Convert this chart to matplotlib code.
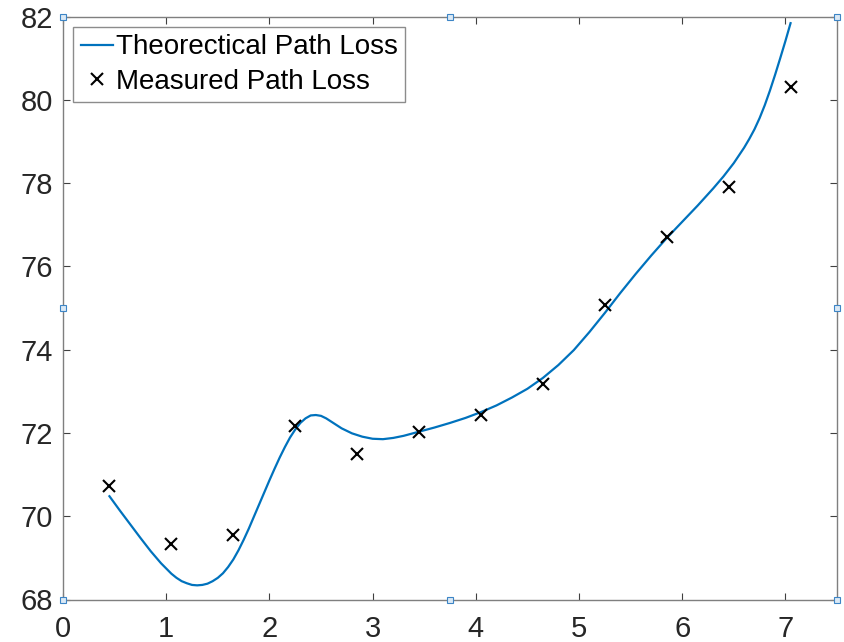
import numpy as np
import matplotlib
matplotlib.use('Agg')
import matplotlib.pyplot as plt

plt.rcParams['font.family'] = ['Liberation Sans', 'DejaVu Sans']

# measured path loss (dB) vs distance
dist_meas = [0.45, 1.05, 1.65, 2.25, 2.85, 3.45, 4.05, 4.65, 5.25, 5.85, 6.45, 7.05]
loss_meas = [70.72, 69.34, 69.54, 72.16, 71.49, 72.02, 72.43, 73.17, 75.07, 76.71, 77.91, 80.30]

# theoretical curve, sampled
dist_theo = [0.45, 0.55, 0.65, 0.75, 0.85, 0.95, 1.05, 1.1, 1.15, 1.2, 1.25,
             1.3, 1.35, 1.4, 1.45, 1.5, 1.55, 1.6, 1.65, 1.7, 1.75, 1.8, 1.85,
             1.9, 1.95, 2.0, 2.05, 2.1, 2.15, 2.2, 2.25, 2.3, 2.35, 2.4, 2.45,
             2.5, 2.55, 2.6, 2.7, 2.8, 2.9, 3.0, 3.1, 3.2, 3.3, 3.45, 3.6,
             3.75, 3.9, 4.05, 4.2, 4.35, 4.5, 4.65, 4.8, 4.95, 5.1, 5.25, 5.4,
             5.55, 5.7, 5.85, 6.0, 6.15, 6.3, 6.4, 6.5, 6.6, 6.65, 6.7, 6.75,
             6.8, 6.85, 6.9, 6.95, 7.0, 7.05]
loss_theo = [70.48, 70.14, 69.81, 69.48, 69.16, 68.87, 68.62, 68.52, 68.44,
             68.39, 68.35, 68.34, 68.35, 68.38, 68.44, 68.52, 68.63, 68.78,
             68.96, 69.18, 69.43, 69.70, 69.99, 70.28, 70.57, 70.86, 71.14,
             71.41, 71.66, 71.89, 72.08, 72.24, 72.35, 72.42, 72.43, 72.41,
             72.35, 72.27, 72.11, 71.99, 71.91, 71.86, 71.85, 71.88, 71.93,
             72.03, 72.13, 72.24, 72.36, 72.50, 72.66, 72.85, 73.06, 73.32,
             73.63, 73.99, 74.42, 74.88, 75.36, 75.82, 76.26, 76.68, 77.07,
             77.46, 77.87, 78.16, 78.48, 78.85, 79.06, 79.29, 79.56, 79.87,
             80.22, 80.60, 81.00, 81.41, 81.84]

xticks = [0, 1, 2, 3, 4, 5, 6, 7]
yticks = [68, 70, 72, 74, 76, 78, 80, 82]

fig = plt.figure(figsize=(8.44, 6.42), dpi=100)
ax = fig.add_axes([63/844, 1 - 599.5/642, 774/844, 583/642])

ax.plot(dist_theo, loss_theo, color='#0072BD', lw=1.6, label='Theorectical Path Loss')
ax.plot(dist_meas, loss_meas, 'x', color='black', ms=8, mew=1.5,
        label='Measured Path Loss')

ax.set_xlim(0, 7.5)
ax.set_ylim(68, 82)
ax.set_xticks(xticks)
ax.set_yticks(yticks)

axcol = '#7f7f7f'
for s in ax.spines.values():
    s.set_color(axcol)
    s.set_linewidth(1.0)
ax.tick_params(direction='in', length=5, width=0.8, color='#404040',
               top=True, right=True, labelsize=21, labelcolor='#262626')
ax.tick_params(axis='x', pad=11)
ax.tick_params(axis='y', pad=7)

leg = ax.legend(loc='upper left', bbox_to_anchor=(10/774, 1 - 10/583),
                borderaxespad=0, fontsize=20, frameon=True, fancybox=False,
                framealpha=1, edgecolor='#8c8c8c', handlelength=1.15,
                handletextpad=0.1, borderpad=0.28, labelspacing=0.3)
leg.get_frame().set_linewidth(1.0)

# selection handles round the axes box
hx = [0, 0.5, 1, 0, 1, 0, 0.5, 1]
hy = [0, 0, 0, 0.5, 0.5, 1, 1, 1]
ax.plot(hx, hy, 's', transform=ax.transAxes, clip_on=False, ms=4,
        mfc='#dbe9f5', mec='#3d85c6', mew=0.8, zorder=5)

fig.savefig('out.png', dpi=100)
